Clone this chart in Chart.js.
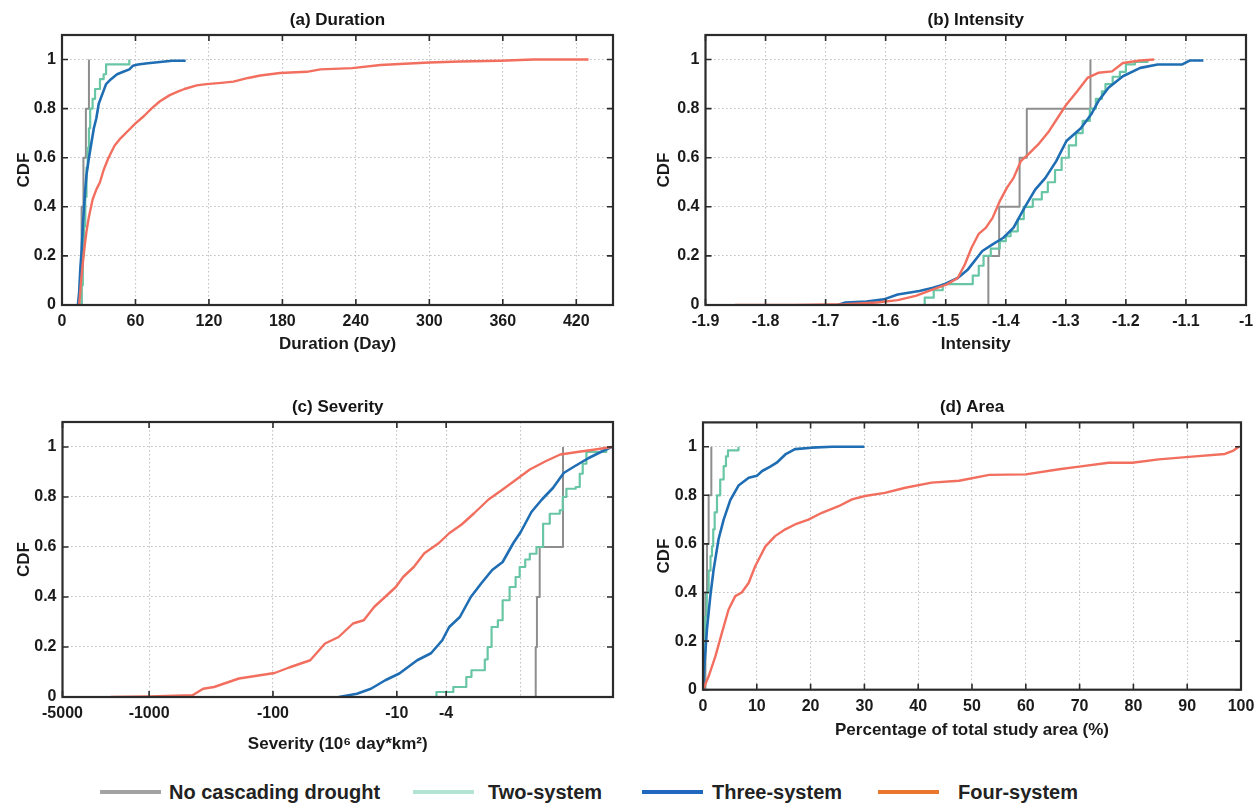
<!DOCTYPE html>
<html>
<head>
<meta charset="utf-8">
<script src="https://cdn.jsdelivr.net/npm/chart.js@4.4.0/dist/chart.umd.min.js"></script>
<style>
html,body{margin:0;padding:0;background:#fff;width:1256px;height:807px;overflow:hidden;font-family:"Liberation Sans",Arial,Helvetica,sans-serif;}
canvas{position:absolute;}
.lg{position:absolute;top:780px;height:24px;line-height:24px;font-weight:bold;font-size:20px;color:#222;white-space:nowrap;}
.sw{position:absolute;top:790px;height:4px;}
</style>
</head>
<body>
<canvas id="ca" width="628" height="370" style="left:0;top:0"></canvas>
<canvas id="cb" width="628" height="370" style="left:628px;top:0"></canvas>
<canvas id="cc" width="628" height="380" style="left:0;top:380px"></canvas>
<canvas id="cd" width="628" height="380" style="left:628px;top:380px"></canvas>

<div class="sw" style="left:100px;width:61px;background:#a3a3a3"></div>
<div class="lg" style="left:169px">No cascading drought</div>
<div class="sw" style="left:413px;width:61px;background:#b3e3d5"></div>
<div class="lg" style="left:488px">Two-system</div>
<div class="sw" style="left:642px;width:61px;background:#2068bd"></div>
<div class="lg" style="left:712px">Three-system</div>
<div class="sw" style="left:878px;width:61px;background:#e9782c"></div>
<div class="lg" style="left:958px">Four-system</div>

<script>
// ---------------- DATA ----------------
const seriesNames = ['No cascading drought', 'Two-system', 'Three-system', 'Four-system'];
const cdfTicks = [0, 0.2, 0.4, 0.6, 0.8, 1];

// (a) Duration (Day)
const durTicks = [0, 60, 120, 180, 240, 300, 360, 420];
const durNoX = [16, 16, 16, 17.5, 19.5, 22];
const durNoY = [0, 0.2, 0.4, 0.6, 0.8, 1];
const durTwoX = [15, 16, 17, 18, 19, 20, 21, 22, 23, 25, 27, 31, 34, 36, 55];
const durTwoY = [0, 0.08, 0.2, 0.32, 0.44, 0.56, 0.64, 0.72, 0.8, 0.84, 0.88, 0.92, 0.94, 0.98, 1];
const durThreeX = [13, 14, 15, 16, 17, 18, 19, 20, 22, 24, 26, 28, 30, 33, 36, 40, 45, 50, 55, 58, 62, 70, 80, 90, 101];
const durThreeY = [0, 0.05, 0.15, 0.22, 0.32, 0.4, 0.47, 0.53, 0.6, 0.66, 0.72, 0.76, 0.82, 0.86, 0.9, 0.92, 0.94, 0.95, 0.96, 0.975, 0.98, 0.985, 0.99, 0.995, 0.995];
const durFourX = [14, 15, 16, 17, 18, 20, 22, 25, 28, 31, 34, 38, 43, 48, 54, 60, 67, 73, 80, 88, 95, 100, 110, 118, 130, 140, 152, 162, 178, 200, 211, 237, 260, 300, 325, 358, 385, 430];
const durFourY = [0, 0.06, 0.12, 0.17, 0.22, 0.3, 0.36, 0.43, 0.47, 0.5, 0.55, 0.6, 0.65, 0.68, 0.71, 0.74, 0.77, 0.8, 0.83, 0.855, 0.87, 0.88, 0.895, 0.9, 0.905, 0.91, 0.925, 0.935, 0.945, 0.95, 0.96, 0.965, 0.978, 0.988, 0.992, 0.995, 1, 1];

// (b) Intensity
const intTicks = [-1.9, -1.8, -1.7, -1.6, -1.5, -1.4, -1.3, -1.2, -1.1, -1];
const intNoX = [-1.429, -1.429, -1.411, -1.377, -1.365, -1.259];
const intNoY = [0, 0.2, 0.4, 0.6, 0.8, 1];
const intTwoX = [-1.544, -1.535, -1.52, -1.505, -1.47, -1.455, -1.445, -1.437, -1.425, -1.41, -1.4, -1.392, -1.38, -1.37, -1.355, -1.34, -1.33, -1.318, -1.307, -1.295, -1.283, -1.272, -1.26, -1.25, -1.24, -1.234, -1.222, -1.21, -1.2, -1.185, -1.164];
const intTwoY = [0, 0.03, 0.06, 0.085, 0.085, 0.12, 0.16, 0.2, 0.23, 0.26, 0.28, 0.3, 0.35, 0.4, 0.43, 0.46, 0.5, 0.55, 0.6, 0.65, 0.7, 0.75, 0.8, 0.84, 0.87, 0.9, 0.93, 0.95, 0.98, 0.99, 1];
const intThreeX = [-1.68, -1.667, -1.632, -1.603, -1.58, -1.544, -1.521, -1.503, -1.48, -1.463, -1.439, -1.422, -1.404, -1.387, -1.369, -1.351, -1.334, -1.316, -1.299, -1.275, -1.258, -1.246, -1.229, -1.205, -1.176, -1.147, -1.106, -1.094, -1.071];
const intThreeY = [0, 0.01, 0.014, 0.023, 0.043, 0.057, 0.07, 0.084, 0.11, 0.145, 0.22, 0.247, 0.274, 0.315, 0.396, 0.47, 0.518, 0.586, 0.668, 0.72, 0.776, 0.83, 0.885, 0.932, 0.966, 0.98, 0.98, 0.996, 0.996];
const intFourX = [-1.851, -1.75, -1.667, -1.615, -1.58, -1.55, -1.521, -1.498, -1.48, -1.468, -1.457, -1.445, -1.433, -1.422, -1.41, -1.398, -1.387, -1.375, -1.363, -1.346, -1.328, -1.31, -1.299, -1.281, -1.264, -1.246, -1.223, -1.205, -1.176, -1.153];
const intFourY = [0, 0, 0.003, 0.01, 0.02, 0.037, 0.064, 0.084, 0.11, 0.166, 0.233, 0.29, 0.315, 0.355, 0.423, 0.478, 0.518, 0.586, 0.613, 0.654, 0.708, 0.776, 0.817, 0.871, 0.925, 0.946, 0.952, 0.986, 0.996, 1];

// (c) Severity (10^6 day*km^2)
const sevTicks = [-5000, -1000, -100, -10, -4, -1];
const sevTickLabels = ['-5000', '-1000', '-100', '-10', '-4', ''];
const sevNoX = [-0.757, -0.757, -0.74, -0.703, -0.456, -0.456];
const sevNoY = [0, 0.2, 0.4, 0.6, 0.8, 1];
const sevTwoX = [-4.79, -4.79, -3.5, -2.75, -2.5, -1.95, -1.85, -1.72, -1.53, -1.4, -1.23, -1.1, -1.02, -0.92, -0.845, -0.746, -0.66, -0.583, -0.484, -0.458, -0.428, -0.36, -0.334, -0.316, -0.295, -0.204];
const sevTwoY = [0, 0.02, 0.04, 0.08, 0.107, 0.15, 0.2, 0.28, 0.307, 0.387, 0.44, 0.48, 0.52, 0.55, 0.573, 0.6, 0.693, 0.733, 0.747, 0.8, 0.833, 0.84, 0.893, 0.933, 0.98, 1];
const sevThreeX = [-29.4, -21, -16.2, -12.4, -9.55, -6.85, -5.3, -4.3, -3.78, -3.1, -2.53, -2.08, -1.7, -1.4, -1.15, -1.0, -0.82, -0.675, -0.55, -0.45, -0.37, -0.285, -0.22, -0.185];
const sevThreeY = [0, 0.013, 0.033, 0.067, 0.094, 0.147, 0.175, 0.227, 0.28, 0.32, 0.4, 0.455, 0.508, 0.54, 0.615, 0.66, 0.74, 0.79, 0.836, 0.896, 0.922, 0.955, 0.983, 1];
const sevFourX = [-2040, -986, -446, -366, -299, -188, -127, -97, -74, -50, -38, -29.5, -22.6, -18.5, -15.2, -12.4, -10.2, -8.9, -7.3, -6.0, -4.6, -3.78, -3.0, -2.38, -1.82, -1.4, -1.1, -0.845, -0.63, -0.48, -0.35, -0.25, -0.185];
const sevFourY = [0, 0.002, 0.007, 0.033, 0.04, 0.074, 0.087, 0.096, 0.118, 0.147, 0.214, 0.24, 0.294, 0.307, 0.361, 0.401, 0.44, 0.48, 0.52, 0.575, 0.615, 0.655, 0.69, 0.735, 0.79, 0.83, 0.868, 0.91, 0.943, 0.97, 0.98, 0.99, 1];

// (d) Area (% of total study area)
const areaTicks = [0, 10, 20, 30, 40, 50, 60, 70, 80, 90, 100];
const areaNoX = [0.45, 0.45, 0.45, 0.75, 1.05, 1.55];
const areaNoY = [0, 0.2, 0.4, 0.6, 0.8, 1];
const areaTwoX = [0, 0.2, 0.43, 0.7, 1.05, 1.4, 1.67, 1.9, 2.17, 2.6, 3.2, 3.84, 4.27, 4.64, 6.3, 6.6];
const areaTwoY = [0, 0.15, 0.3, 0.4, 0.49, 0.55, 0.59, 0.66, 0.73, 0.8, 0.865, 0.92, 0.96, 0.985, 0.985, 1];
const areaThreeX = [0, 0.3, 0.74, 1.36, 1.98, 2.9, 3.84, 5.07, 6.6, 8.5, 10, 11, 12.5, 13.7, 15.3, 17.1, 20.2, 24, 30];
const areaThreeY = [0, 0.11, 0.25, 0.385, 0.495, 0.62, 0.7, 0.78, 0.84, 0.872, 0.88, 0.9, 0.918, 0.934, 0.968, 0.99, 0.996, 1, 1];
const areaFourX = [0, 1.05, 2.3, 3.5, 4.76, 6, 7.2, 8.5, 9.7, 11.6, 13.4, 15.3, 17.1, 19.6, 22.1, 25.2, 27.7, 30.1, 33.8, 37.6, 42.5, 47.6, 53.2, 60, 66.2, 69.9, 75.4, 79.8, 84.7, 90.9, 97, 98.6, 99.6];
const areaFourY = [0, 0.055, 0.137, 0.233, 0.33, 0.385, 0.4, 0.44, 0.508, 0.59, 0.632, 0.66, 0.68, 0.7, 0.728, 0.755, 0.783, 0.797, 0.81, 0.831, 0.852, 0.86, 0.884, 0.886, 0.907, 0.918, 0.934, 0.934, 0.948, 0.959, 0.97, 0.984, 1];

// ---------------- STYLE / BUILD ----------------
const FONT = '"Liberation Sans", Arial, Helvetica, sans-serif';
const COL = {no: '#8e8e8e', two: '#69c6a5', three: '#1f6db3', four: '#f26f5f'};
Chart.defaults.font.family = FONT;

function ds(name, xs, ys, color, width, stepped, mapX) {
  return {
    label: name,
    data: xs.map((v, i) => ({x: mapX ? mapX(v) : v, y: ys[i]})),
    borderColor: color, backgroundColor: color, borderWidth: width,
    pointRadius: 0, pointHoverRadius: 0, fill: false, tension: 0,
    stepped: stepped ? 'before' : false, borderJoinStyle: 'round', borderCapStyle: 'butt'
  };
}

function fourSets(noX, noY, twoX, twoY, threeX, threeY, fourX, fourY, mapX) {
  // first dataset is drawn on top in Chart.js
  return [
    ds(seriesNames[3], fourX, fourY, COL.four, 2.4, false, mapX),
    ds(seriesNames[2], threeX, threeY, COL.three, 2.6, false, mapX),
    ds(seriesNames[1], twoX, twoY, COL.two, 2.2, true, mapX),
    ds(seriesNames[0], noX, noY, COL.no, 2, true, mapX)
  ];
}

const framePlugin = {
  id: 'frame',
  afterDraw(chart, args, opts) {
    const {ctx, chartArea: a} = chart;
    const xs = chart.scales.x, ys = chart.scales.y;
    ctx.save();
    ctx.strokeStyle = '#2b2b2b';
    ctx.lineWidth = 1.6;
    ctx.beginPath();
    const L = 6;
    xs.ticks.forEach(t => {
      if (t.label === '') return;
      const p = xs.getPixelForValue(t.value);
      ctx.moveTo(p, a.bottom); ctx.lineTo(p, a.bottom - L);
      ctx.moveTo(p, a.top); ctx.lineTo(p, a.top + L);
    });
    ys.ticks.forEach(t => {
      const p = ys.getPixelForValue(t.value);
      ctx.moveTo(a.left, p); ctx.lineTo(a.left + L, p);
      ctx.moveTo(a.right, p); ctx.lineTo(a.right - L, p);
    });
    ctx.stroke();
    ctx.lineWidth = 2.2;
    ctx.strokeRect(a.left, a.top, a.right - a.left, a.bottom - a.top);
    ctx.fillStyle = '#151515';
    ctx.font = 'bold 17px ' + FONT;
    ctx.textAlign = 'center';
    ctx.textBaseline = 'middle';
    ctx.fillText(opts.text, (a.left + a.right) / 2, a.top - 15);
    ctx.restore();
  }
};

const tickFont = {family: FONT, size: 16, weight: 'bold'};
const titleFont = {family: FONT, size: 17, weight: 'bold'};
const gridOpts = {color: '#c2c2c2', lineWidth: 1.1, drawTicks: false};
const borderOpts = {display: false, dash: [1.6, 2.4]};

function panel(id, p) {
  return new Chart(document.getElementById(id), {
    type: 'line',
    data: {datasets: p.datasets},
    options: {
      responsive: false, animation: false, events: [],
      layout: {padding: p.padding, autoPadding: false},
      plugins: {legend: {display: false}, tooltip: {enabled: false}, title: {display: false}, frame: {text: p.title}},
      scales: {
        x: Object.assign({
          type: p.xType || 'linear',
          min: p.xMin, max: p.xMax,
          grid: gridOpts, border: borderOpts,
          ticks: {font: tickFont, color: '#1a1a1a', padding: 7, maxRotation: 0, autoSkip: false,
                  callback: p.xLabel},
          title: {display: true, text: p.xTitle, font: titleFont, color: '#1a1a1a', padding: {top: 0, bottom: p.xTitlePad}},
          afterBuildTicks: s => { s.ticks = p.xTicks.map(v => ({value: v})); },
          afterFit: s => { s.height = p.xH; s.paddingLeft = 0; s.paddingRight = 0; }
        }, p.xExtra || {}),
        y: {
          type: 'linear', min: 0, max: 1.1,
          grid: gridOpts, border: borderOpts,
          ticks: {font: tickFont, color: '#1a1a1a', padding: 6, stepSize: 0.2,
                  callback: v => String(v)},
          title: {display: true, text: 'CDF', font: titleFont, color: '#1a1a1a', padding: {top: p.yTitlePad, bottom: 0}},
          afterBuildTicks: s => { s.ticks = cdfTicks.map(v => ({value: v})); },
          afterFit: s => { s.width = p.yW; s.paddingTop = 0; s.paddingBottom = 0; }
        }
      }
    },
    plugins: [framePlugin]
  });
}

panel('ca', {
  title: '(a) Duration',
  datasets: fourSets(durNoX, durNoY, durTwoX, durTwoY, durThreeX, durThreeY, durFourX, durFourY),
  padding: {left: 0, right: 15, top: 35, bottom: 0},
  xMin: 0, xMax: 450, xTicks: durTicks, xLabel: v => String(v),
  xExtra: {ticks: {font: tickFont, color: '#1a1a1a', padding: 7, maxRotation: 0, autoSkip: false, stepSize: 60, callback: v => String(v)}},
  xTitle: 'Duration (Day)', xTitlePad: 15, xH: 65, yW: 62, yTitlePad: 14
});

panel('cb', {
  title: '(b) Intensity',
  datasets: fourSets(intNoX, intNoY, intTwoX, intTwoY, intThreeX, intThreeY, intFourX, intFourY),
  padding: {left: 0, right: 10, top: 35, bottom: 0},
  xMin: -1.9, xMax: -1.0, xTicks: intTicks,
  xExtra: {ticks: {font: tickFont, color: '#1a1a1a', padding: 7, maxRotation: 0, autoSkip: false, stepSize: 0.1, callback: v => String(v)}},
  xTitle: 'Intensity', xTitlePad: 15, xH: 65, yW: 77.5, yTitlePad: 26
});

panel('cc', {
  title: '(c) Severity',
  datasets: fourSets(sevNoX, sevNoY, sevTwoX, sevTwoY, sevThreeX, sevThreeY, sevFourX, sevFourY, v => -v),
  padding: {left: 0, right: 15, top: 42, bottom: 0},
  xType: 'logarithmic', xMin: 0.18, xMax: 5000, xTicks: sevTicks.map(v => -v),
  xExtra: {reverse: true,
    ticks: {font: tickFont, color: '#1a1a1a', padding: 7, maxRotation: 0, autoSkip: false,
            callback: (v, i) => sevTickLabels[i]}},
  xTitle: 'Severity (10\u2076 day*km\u00B2)', xTitlePad: 5, xH: 63, yW: 62.5, yTitlePad: 14
});

panel('cd', {
  title: '(d) Area',
  datasets: fourSets(areaNoX, areaNoY, areaTwoX, areaTwoY, areaThreeX, areaThreeY, areaFourX, areaFourY),
  padding: {left: 0, right: 15, top: 42.4, bottom: 0},
  xMin: 0, xMax: 100, xTicks: areaTicks,
  xExtra: {ticks: {font: tickFont, color: '#1a1a1a', padding: 7, maxRotation: 0, autoSkip: false, stepSize: 10, callback: v => String(v)}},
  xTitle: 'Percentage of total study area (%)', xTitlePad: 19, xH: 70.3, yW: 75, yTitlePad: 26
});
</script>
</body>
</html>
